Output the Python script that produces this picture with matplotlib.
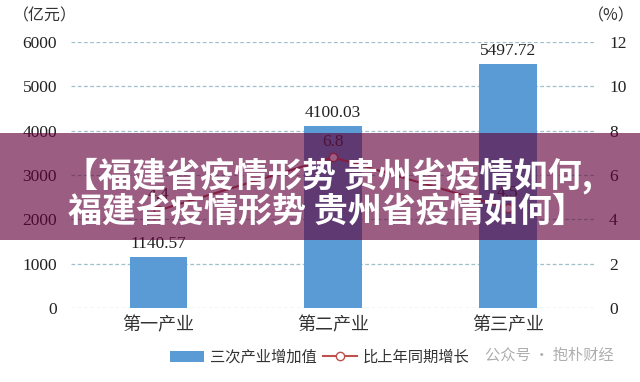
import matplotlib
matplotlib.use("Agg")
import matplotlib.pyplot as plt
from matplotlib.patches import Rectangle
from matplotlib.lines import Line2D
from matplotlib.patches import Patch

categories = ["第一产业", "第二产业", "第三产业"]
added_value = [1140.57, 4100.03, 5497.72]
growth = [4.4, 6.8, 4.5]
left_ticks = [0, 1000, 2000, 3000, 4000, 5000, 6000]
right_ticks = [0, 2, 4, 6, 8, 10, 12]
bar_label = "三次产业增加值"
line_label = "比上年同期增长"
title_lines = ["【福建省疫情形势 贵州省疫情如何,", "福建省疫情形势 贵州省疫情如何】"]

serif = ["Liberation Serif", "DejaVu Serif"]
cjk = ["Noto Sans CJK SC", "DejaVu Sans"]

fig = plt.figure(figsize=(6.4, 3.82), dpi=100)
ax = fig.add_axes([0.111, 0.194, 0.819, 0.696])
x = list(range(len(categories)))
ax.bar(x, added_value, width=0.33, color="#5B9BD5", zorder=2)
ax.set_xlim(-0.5, 2.5)
ax.set_ylim(0, 6000)
ax.set_yticks(left_ticks)
ax.set_yticklabels([str(v) for v in left_ticks], fontfamily=serif, fontsize=12.5, color="#222222")
ax.set_xticks(x)
ax.set_xticklabels(categories, fontfamily=cjk, fontsize=13, color="#333333")
for s in ax.spines.values():
    s.set_visible(False)
ax.tick_params(axis="x", length=0, pad=6)
ax.tick_params(axis="y", length=0, pad=10)
for v in left_ticks:
    ax.axhline(v, color="#9FBFCB", lw=0.9, ls=(0, (3, 2)), zorder=1)
for xi, v in zip(x, added_value):
    ax.annotate(f"{v:.2f}", (xi, v), xytext=(0, 4), textcoords="offset points",
                ha="center", va="bottom", fontfamily=serif, fontsize=12.5, color="#222222")

ax2 = ax.twinx()
ax2.plot(x, growth, color="#C0504D", lw=1.5, marker="o", markersize=6,
         markerfacecolor="white", markeredgecolor="#C0504D", zorder=3)
ax2.set_ylim(0, 12)
ax2.set_yticks(right_ticks)
ax2.set_yticklabels([str(v) for v in right_ticks], fontfamily=serif, fontsize=12.5, color="#222222")
for s in ax2.spines.values():
    s.set_visible(False)
ax2.tick_params(length=0, pad=10)
for xi, v in zip(x, growth):
    ax2.annotate(f"{v}", (xi, v), xytext=(0, 5), textcoords="offset points",
                 ha="center", va="bottom", fontfamily=serif, fontsize=12.5, color="#333333")

fig.text(13/640, 1 - 16/382, "（亿元）", fontfamily=cjk, fontsize=11.5, color="#333333",
         ha="left", va="center")
fig.text(588/640, 1 - 16/382, "（%）", fontfamily=cjk, fontsize=11.5, color="#333333",
         ha="left", va="center")

handles = [Patch(facecolor="#5B9BD5"),
           Line2D([0], [0], color="#C0504D", lw=1.5, marker="o", markersize=6,
                  markerfacecolor="white", markeredgecolor="#C0504D")]
fig.legend(handles, [bar_label, line_label], loc="center", bbox_to_anchor=(0.50, 1 - 357/382),
           ncol=2, frameon=False, prop={"family": cjk, "size": 11}, handlelength=2.2,
           handletextpad=0.4, columnspacing=0.4, labelcolor="#333333")

fig.text(614/640, 1 - 355/382, "公众号 · 抱朴财经", fontfamily=cjk, fontsize=11,
         color="#9A9A9A", ha="right", va="center", alpha=0.8)

fig.patches.append(Rectangle((0, 1 - 240/382), 1, 107/382, transform=fig.transFigure,
                             facecolor="#610039", alpha=0.63, edgecolor="none", zorder=10))
fig.text(64/640, 1 - 176/382, title_lines[0], fontfamily=cjk, fontsize=24.5, fontweight="bold",
         color="white", ha="left", va="center", zorder=11)
fig.text(68/640, 1 - 211/382, title_lines[1], fontfamily=cjk, fontsize=24.5, fontweight="bold",
         color="white", ha="left", va="center", zorder=11)

fig.savefig("out.png", dpi=100, facecolor="white")
